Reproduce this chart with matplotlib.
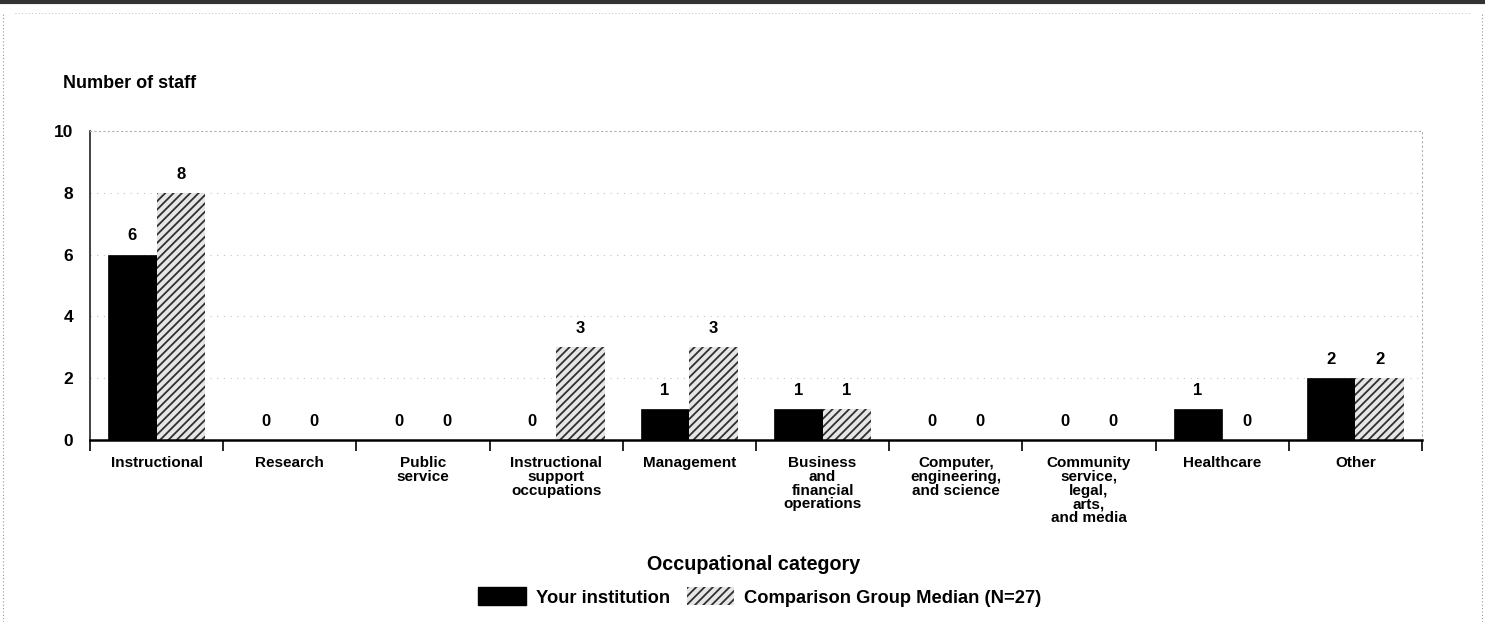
import matplotlib
matplotlib.use("Agg")
import matplotlib.pyplot as plt
import numpy as np
from matplotlib.patches import Patch
from matplotlib.lines import Line2D

categories = ["Instructional", "Research", "Public\nservice", "Instructional\nsupport\noccupations",
              "Management", "Business\nand\nfinancial\noperations",
              "Computer,\nengineering,\nand science",
              "Community\nservice,\nlegal,\narts,\nand media", "Healthcare", "Other"]
your_institution = [6, 0, 0, 0, 1, 1, 0, 0, 1, 2]
comparison_median = [8, 0, 0, 3, 3, 1, 0, 0, 0, 2]
series_names = ["Your institution", "Comparison Group Median (N=27)"]
yticks = [0, 2, 4, 6, 8, 10]

plt.rcParams['font.family'] = ['Liberation Sans', 'DejaVu Sans']
plt.rcParams['hatch.linewidth'] = 1.3

HATCH_FACE = '#e6e6e6'
HATCH_EDGE = '#303030'

fig = plt.figure(figsize=(14.85, 6.22), dpi=100)
ax = fig.add_axes([90/1485, 1 - 440/622, 1332/1485, 309/622])

x = np.arange(len(categories))
w = 0.365
b1 = ax.bar(x - w/2, your_institution, w, color='black', edgecolor='black', linewidth=0.5, zorder=2)
b2 = ax.bar(x + w/2, comparison_median, w, color=HATCH_FACE, edgecolor=HATCH_EDGE, hatch='////',
            linewidth=0, zorder=2)

for bars, vals in ((b1, your_institution), (b2, comparison_median)):
    for rect, v in zip(bars, vals):
        ax.text(rect.get_x() + rect.get_width()/2, v + 0.36, str(v), ha='center', va='bottom',
                fontsize=12, fontweight='bold')

ax.set_xlim(-0.5, len(categories) - 0.5)
ax.set_ylim(0, 10)
ax.set_yticks(yticks)
ax.set_yticklabels([str(t) for t in yticks], fontsize=12.5, fontweight='bold')
ax.tick_params(axis='y', length=0, pad=12)

# category labels at centres, ticks at boundaries
ax.set_xticks(np.arange(len(categories) + 1) - 0.5)
ax.set_xticklabels([])
ax.tick_params(axis='x', length=8, width=1.2, direction='out')
for i, c in enumerate(categories):
    ax.text(i, -0.52, c, ha='center', va='top', fontsize=11, fontweight='bold',
            linespacing=0.98, transform=ax.transData)

for t in yticks[1:-1]:
    ax.axhline(t, color='#c0c0c0', linestyle=(0, (1, 5)), linewidth=0.8, zorder=0)

for s in ('top', 'right'):
    ax.spines[s].set_visible(True)
    ax.spines[s].set_color('#b0b0b0')
    ax.spines[s].set_linestyle((0, (1, 3)))
    ax.spines[s].set_linewidth(0.8)
ax.spines['left'].set_linewidth(1.2)
ax.spines['left'].set_color('#222222')
ax.spines['bottom'].set_linewidth(1.8)

fig.text(63/1485, 1 - 84/622, "Number of staff", fontsize=13, fontweight='bold', va='center', ha='left')
fig.text(754/1485, 1 - 565/622, "Occupational category", fontsize=14.2, fontweight='bold',
         ha='center', va='center')

handles = [Patch(facecolor='black', edgecolor='black'),
           Patch(facecolor=HATCH_FACE, edgecolor=HATCH_EDGE, hatch='////', linewidth=0)]
fig.legend(handles, series_names, loc='center', bbox_to_anchor=(760/1485, 1 - 597/622), ncol=2,
           frameon=False, prop={'weight': 'bold', 'size': 13.2}, handlelength=2.6, handleheight=1.1,
           columnspacing=0.9, handletextpad=0.55, borderpad=0)

# page frame
fig.add_artist(Line2D([0, 1], [0.996, 0.996], transform=fig.transFigure, color='#333333', linewidth=3))
fig.add_artist(Line2D([0.01, 0.99], [1 - 13/622, 1 - 13/622], transform=fig.transFigure,
                      color='#aaaaaa', linewidth=0.6, linestyle=(0, (1, 3))))
fig.add_artist(Line2D([0.002, 0.002], [0, 0.98], transform=fig.transFigure, color='#999999',
                      linewidth=0.8, linestyle=(0, (1, 2))))
fig.add_artist(Line2D([0.998, 0.998], [0, 0.98], transform=fig.transFigure, color='#999999',
                      linewidth=0.8, linestyle=(0, (1, 2))))

fig.savefig("out.png", dpi=100)
